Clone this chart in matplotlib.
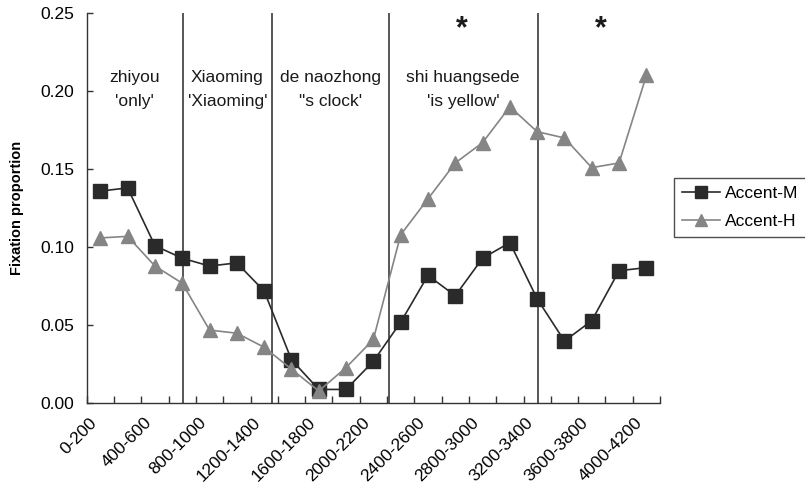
import matplotlib
matplotlib.use("Agg")
import matplotlib.pyplot as plt
import matplotlib.transforms as mtransforms
import numpy as np

# Time windows (ms) after onset
categories = ["0-200", "200-400", "400-600", "600-800", "800-1000", "1000-1200",
              "1200-1400", "1400-1600", "1600-1800", "1800-2000", "2000-2200",
              "2200-2400", "2400-2600", "2600-2800", "2800-3000", "3000-3200",
              "3200-3400", "3400-3600", "3600-3800", "3800-4000", "4000-4200"]

accent_m = [0.136, 0.138, 0.101, 0.093, 0.088, 0.090, 0.072, 0.028, 0.009, 0.009,
            0.027, 0.052, 0.082, 0.069, 0.093, 0.103, 0.067, 0.040, 0.053, 0.085, 0.087]
accent_h = [0.106, 0.107, 0.088, 0.077, 0.047, 0.045, 0.036, 0.022, 0.008, 0.023,
            0.041, 0.108, 0.131, 0.154, 0.167, 0.190, 0.174, 0.170, 0.151, 0.154, 0.210]

# Word boundaries, in category-index units
word_bounds = [3.02, 6.30, 10.56, 16.03]
word_labels = ["zhiyou\n'only'", "Xiaoming\n'Xiaoming'", "de naozhong\n\"s clock'",
               "shi huangsede\n'is yellow'"]
word_label_x = [1.25, 4.65, 8.43, 13.28]
star_x = [13.25, 18.32]

plt.rcParams['font.family'] = ['Liberation Sans', 'DejaVu Sans']

fig = plt.figure(figsize=(8.05, 4.96), dpi=100)
ax = fig.add_axes([0.1077, 0.1865, 0.7122, 0.7873])

x = np.arange(len(categories))
dark = "#2a2a2a"
grey = "#858585"

ax.plot(x, accent_m, color=dark, lw=1.2, marker="s", ms=9.5,
        mfc=dark, mec=dark, label="Accent-M", zorder=3)
ax.plot(x, accent_h, color=grey, lw=1.2, marker="^", ms=10.5,
        mfc=grey, mec=grey, label="Accent-H", zorder=3)

for b in word_bounds:
    ax.axvline(b, color="#3a3a3a", lw=1.2, zorder=2)

for lx, txt in zip(word_label_x, word_labels):
    ax.text(lx, 0.201, txt, ha="center", va="center", fontsize=12.5,
            color="#1a1a1a", linespacing=1.75)

for sx in star_x:
    ax.text(sx, 0.2397, "*", ha="center", va="center", fontsize=22,
            fontweight="bold", color="#1a1a1a")

ax.set_xlim(-0.5, len(categories) - 0.5)
ax.set_ylim(0, 0.25)

# Tick marks sit between categories; labels sit on every other category
ax.set_xticks(np.arange(-0.5, len(categories), 1.0))
ax.set_xticklabels([])
ax.tick_params(axis="x", which="major", direction="in", length=5, width=1, color="#333333")
ax.set_xticks(x[::2], minor=True)
ax.set_xticklabels(categories[::2], minor=True, rotation=45, ha="right",
                   va="center", rotation_mode="anchor", fontsize=12.5)
ax.tick_params(axis="x", which="minor", length=0, pad=12)
shift = mtransforms.ScaledTranslation(-6 / 100, 0, fig.dpi_scale_trans)
for lbl in ax.get_xticklabels(minor=True):
    lbl.set_transform(lbl.get_transform() + shift)

ax.set_yticks(np.arange(0, 0.251, 0.05))
ax.set_yticklabels([f"{v:.2f}" for v in np.arange(0, 0.251, 0.05)], fontsize=12.5)
ax.tick_params(axis="y", direction="in", length=4, width=1, color="#333333", pad=9)

ax.set_ylabel("Fixation proportion", fontsize=10.5, fontweight="bold", labelpad=12)

for s in ["top", "right"]:
    ax.spines[s].set_visible(False)
for s in ["left", "bottom"]:
    ax.spines[s].set_color("#333333")
    ax.spines[s].set_linewidth(1)

leg = fig.legend(loc="upper left", bbox_to_anchor=(0.8373, 0.6411), fontsize=12.5,
                 frameon=True, fancybox=False, edgecolor="#222222", numpoints=1,
                 handlelength=2.2, handletextpad=0.3, labelspacing=0.75,
                 borderpad=0.45, borderaxespad=0)
leg.get_frame().set_linewidth(1)
for h in leg.legend_handles:
    h.set_markersize(8)

fig.savefig("out.png", dpi=100)
